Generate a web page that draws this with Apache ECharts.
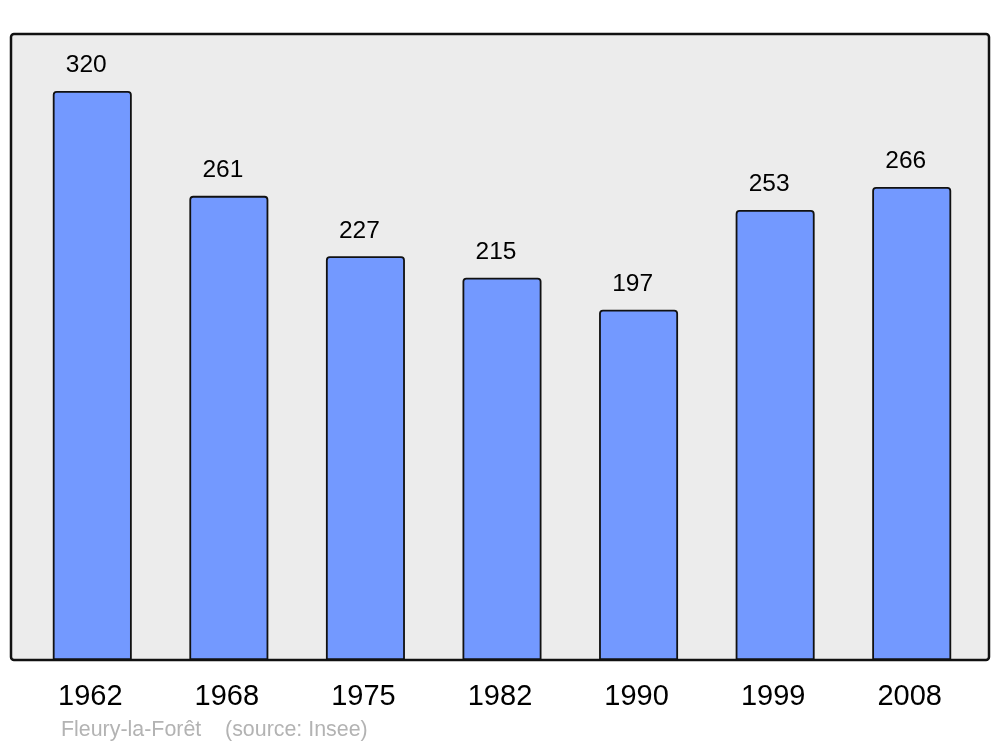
<!DOCTYPE html>
<html>
<head>
<meta charset="utf-8">
<script src="https://cdn.jsdelivr.net/npm/echarts@6/dist/echarts.min.js"></script>
<style>
html,body{margin:0;padding:0;background:#fff;}
#chart{width:1000px;height:747px;}
</style>
</head>
<body>
<div id="chart"></div>
<script>
var years = ['1962', '1968', '1975', '1982', '1990', '1999', '2008'];
var population = [320, 261, 227, 215, 197, 253, 266];
var footerText = 'Fleury-la-Forêt    (source: Insee)';

var chart = echarts.init(document.getElementById('chart'), null, {renderer: 'canvas'});
chart.setOption({
  backgroundColor: '#ffffff',
  animation: false,
  graphic: [
    {
      type: 'rect',
      z: -10,
      shape: {x: 11, y: 34, width: 978, height: 626, r: 3},
      style: {fill: '#ececec', stroke: '#111111', lineWidth: 2.5}
    },
    {
      type: 'text',
      left: 61,
      top: 720,
      style: {text: footerText, fill: '#b3b3b3', font: '21.4px "Liberation Sans", Arial, sans-serif'}
    }
  ],
  grid: {left: 24, right: 20, top: 34, bottom: 87, containLabel: false},
  xAxis: {
    type: 'category',
    data: years,
    axisLine: {show: false},
    axisTick: {show: false},
    axisLabel: {
      color: '#000',
      fontSize: 29,
      fontFamily: '"Liberation Sans", Arial, sans-serif',
      margin: 22,
      padding: [0, 4, 0, 0]
    }
  },
  yAxis: {
    type: 'value',
    min: 0,
    max: 352,
    show: false,
    splitLine: {show: false}
  },
  series: [{
    type: 'bar',
    data: population,
    barWidth: 79,
    itemStyle: {color: '#7399ff', borderColor: '#111111', borderWidth: 1.8, borderRadius: [3, 3, 0, 0]},
    label: {
      show: true,
      position: 'top',
      distance: 13,
      offset: [-6, 0],
      color: '#000',
      fontSize: 24.5,
      fontFamily: '"Liberation Sans", Arial, sans-serif'
    }
  }]
});
</script>
</body>
</html>
